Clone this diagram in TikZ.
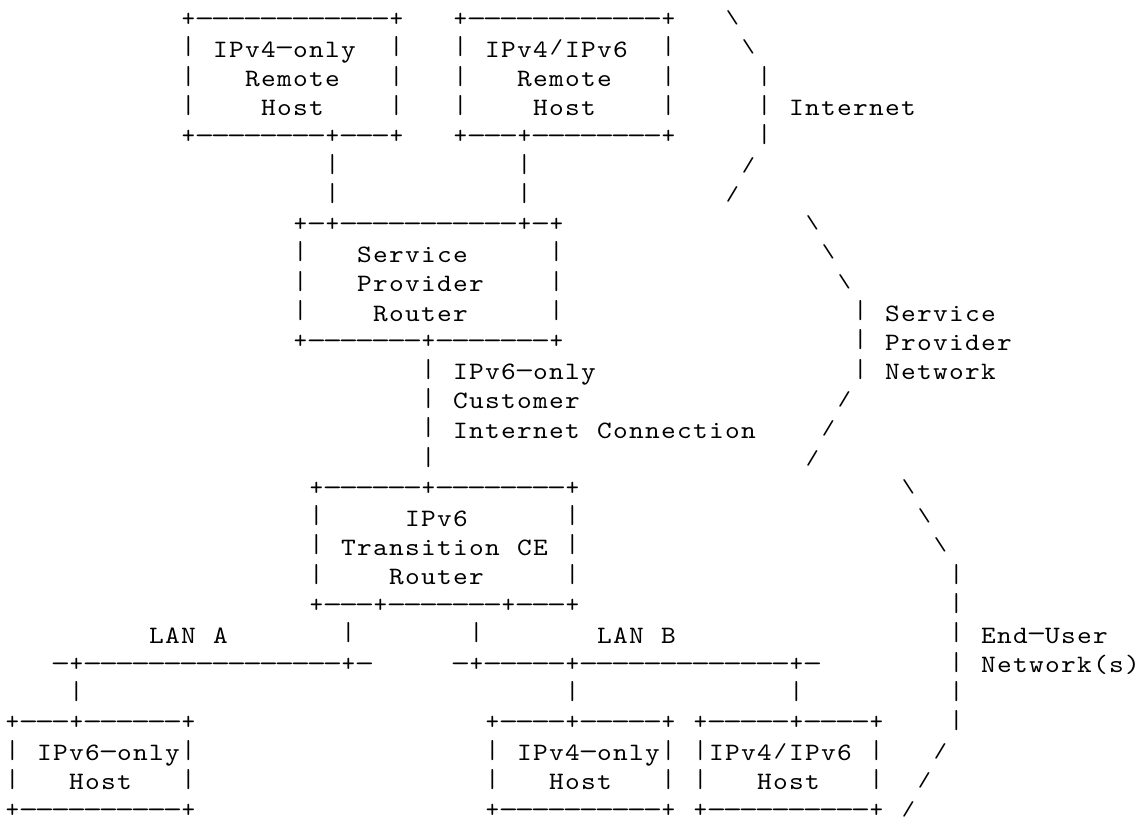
\documentclass[tikz,border=0pt]{standalone}
\usepackage{fontspec}
\usepackage{graphicx}
\newfontfamily\ascfont{lmmono10-regular}[Extension=.otf]
% one character per 16pt cell, as in a monospaced listing
\newcommand\asccell[1]{\makebox[16pt]{%
  \ifx-#1\raisebox{1.5pt}{\scalebox{1.5}[1]{-}}\else
  \ifx|#1\raisebox{2.5pt}{\scalebox{1}[1.04]{|}}\else
  \ifx/#1\raisebox{3.5pt}{\scalebox{1}[0.8]{/}}\else
  \ifx\BS#1\raisebox{4.5pt}{\scalebox{1}[0.74]{\textbackslash}}\else
  \ifx+#1\raisebox{1.5pt}{+}\else
  \scalebox{1.12}[1]{#1}\fi\fi\fi\fi\fi}}
\newcommand\asccells[1]{\asccellsA#1\relax}
\def\asccellsA#1{\ifx\relax#1\else\asccell{#1}\expandafter\asccellsA\fi}
\newcommand\ascrow[1]{\hbox{\asccells{#1}}}
\newcommand\ascblock[1]{\vtop{\baselineskip=29.3pt\lineskiplimit=-100pt\lineskip=0pt #1}}
\newcommand\BS{\textbackslash}
\tikzset{asc/.style={anchor=base west, inner sep=0pt, outer sep=0pt, font=\ascfont\fontsize{25}{29.3}\selectfont}}
% position of a block whose first row is r and first column is c
\newcommand\at[2]{({16*#2+4.5},{28+29.3*#1})}
\begin{document}
\begin{tikzpicture}[x=1pt,y=-1pt]
\path[use as bounding box, fill=white] (0,0) rectangle (1139,822);
% remote hosts
\node[asc] (hostA) at \at{0}{11} {\ascblock{%
\ascrow{+------------+}\ascrow{|~IPv4-only~~|}\ascrow{|~~~Remote~~~|}\ascrow{|~~~~Host~~~~|}\ascrow{+--------+---+}}};
\node[asc] (hostB) at \at{0}{28} {\ascblock{%
\ascrow{+------------+}\ascrow{|~IPv4/IPv6~~|}\ascrow{|~~~Remote~~~|}\ascrow{|~~~~Host~~~~|}\ascrow{+---+--------+}}};
% links to service provider router
\node[asc] (linkA) at \at{5}{20} {\ascblock{\ascrow{|}\ascrow{|}}};
\node[asc] (linkB) at \at{5}{32} {\ascblock{\ascrow{|}\ascrow{|}}};
% service provider router
\node[asc] (spr) at \at{7}{18} {\ascblock{%
\ascrow{+-+-----------+-+}\ascrow{|~~~Service~~~~~|}\ascrow{|~~~Provider~~~~|}\ascrow{|~~~~Router~~~~~|}\ascrow{+-------+-------+}}};
% customer internet connection
\node[asc] (uplink) at \at{12}{26} {\ascblock{\ascrow{|}\ascrow{|}\ascrow{|}\ascrow{|}}};
\node[asc] (uplinklabel) at \at{12}{28} {\ascblock{\ascrow{IPv6-only}\ascrow{Customer}\ascrow{Internet~Connection}}};
% CE router
\node[asc] (ce) at \at{16}{19} {\ascblock{%
\ascrow{+------+--------+}\ascrow{|~~~~~IPv6~~~~~~|}\ascrow{|~Transition~CE~|}\ascrow{|~~~~Router~~~~~|}\ascrow{+---+-------+---+}}};
% LANs
\node[asc] (dropA) at \at{21}{21} {\ascblock{\ascrow{|}}};
\node[asc] (dropB) at \at{21}{29} {\ascblock{\ascrow{|}}};
\node[asc] (lanAlabel) at \at{21}{9} {\ascblock{\ascrow{LAN~A}}};
\node[asc] (lanBlabel) at \at{21}{37} {\ascblock{\ascrow{LAN~B}}};
\node[asc] (lanA) at \at{22}{3} {\ascblock{\ascrow{-+----------------+-}}};
\node[asc] (lanB) at \at{22}{28} {\ascblock{\ascrow{-+-----+-------------+-}}};
\node[asc] (drop6) at \at{23}{4} {\ascblock{\ascrow{|}}};
\node[asc] (drop4) at \at{23}{35} {\ascblock{\ascrow{|}}};
\node[asc] (drop46) at \at{23}{49} {\ascblock{\ascrow{|}}};
% end hosts
\node[asc] (host6) at \at{24}{0} {\ascblock{%
\ascrow{+---+------+}\ascrow{|~IPv6-only|}\ascrow{|~~~Host~~~|}\ascrow{+----------+}}};
\node[asc] (host4) at \at{24}{30} {\ascblock{%
\ascrow{+----+-----+}\ascrow{|~IPv4-only|}\ascrow{|~~~Host~~~|}\ascrow{+----------+}}};
\node[asc] (host46) at \at{24}{43} {\ascblock{%
\ascrow{+-----+----+}\ascrow{|IPv4/IPv6~|}\ascrow{|~~~Host~~~|}\ascrow{+----------+}}};
% network brackets
\node[asc] (inet) at \at{0}{45} {\ascblock{%
\ascrow{\BS}\ascrow{~\BS}\ascrow{~~|}\ascrow{~~|}\ascrow{~~|}\ascrow{~/}\ascrow{/}}};
\node[asc] (inetlabel) at \at{3}{49} {\ascblock{\ascrow{Internet}}};
\node[asc] (spn) at \at{7}{50} {\ascblock{%
\ascrow{\BS}\ascrow{~\BS}\ascrow{~~\BS}\ascrow{~~~|}\ascrow{~~~|}\ascrow{~~~|}\ascrow{~~/}\ascrow{~/}\ascrow{/}}};
\node[asc] (spnlabel) at \at{10}{55} {\ascblock{\ascrow{Service}\ascrow{Provider}\ascrow{Network}}};
\node[asc] (eun) at \at{16}{56} {\ascblock{%
\ascrow{\BS}\ascrow{~\BS}\ascrow{~~\BS}\ascrow{~~~|}\ascrow{~~~|}\ascrow{~~~|}\ascrow{~~~|}\ascrow{~~~|}\ascrow{~~~|}\ascrow{~~/}\ascrow{~/}\ascrow{/}}};
\node[asc] (eunlabel) at \at{21}{61} {\ascblock{\ascrow{End-User}\ascrow{Network(s)}}};
\end{tikzpicture}
\end{document}
